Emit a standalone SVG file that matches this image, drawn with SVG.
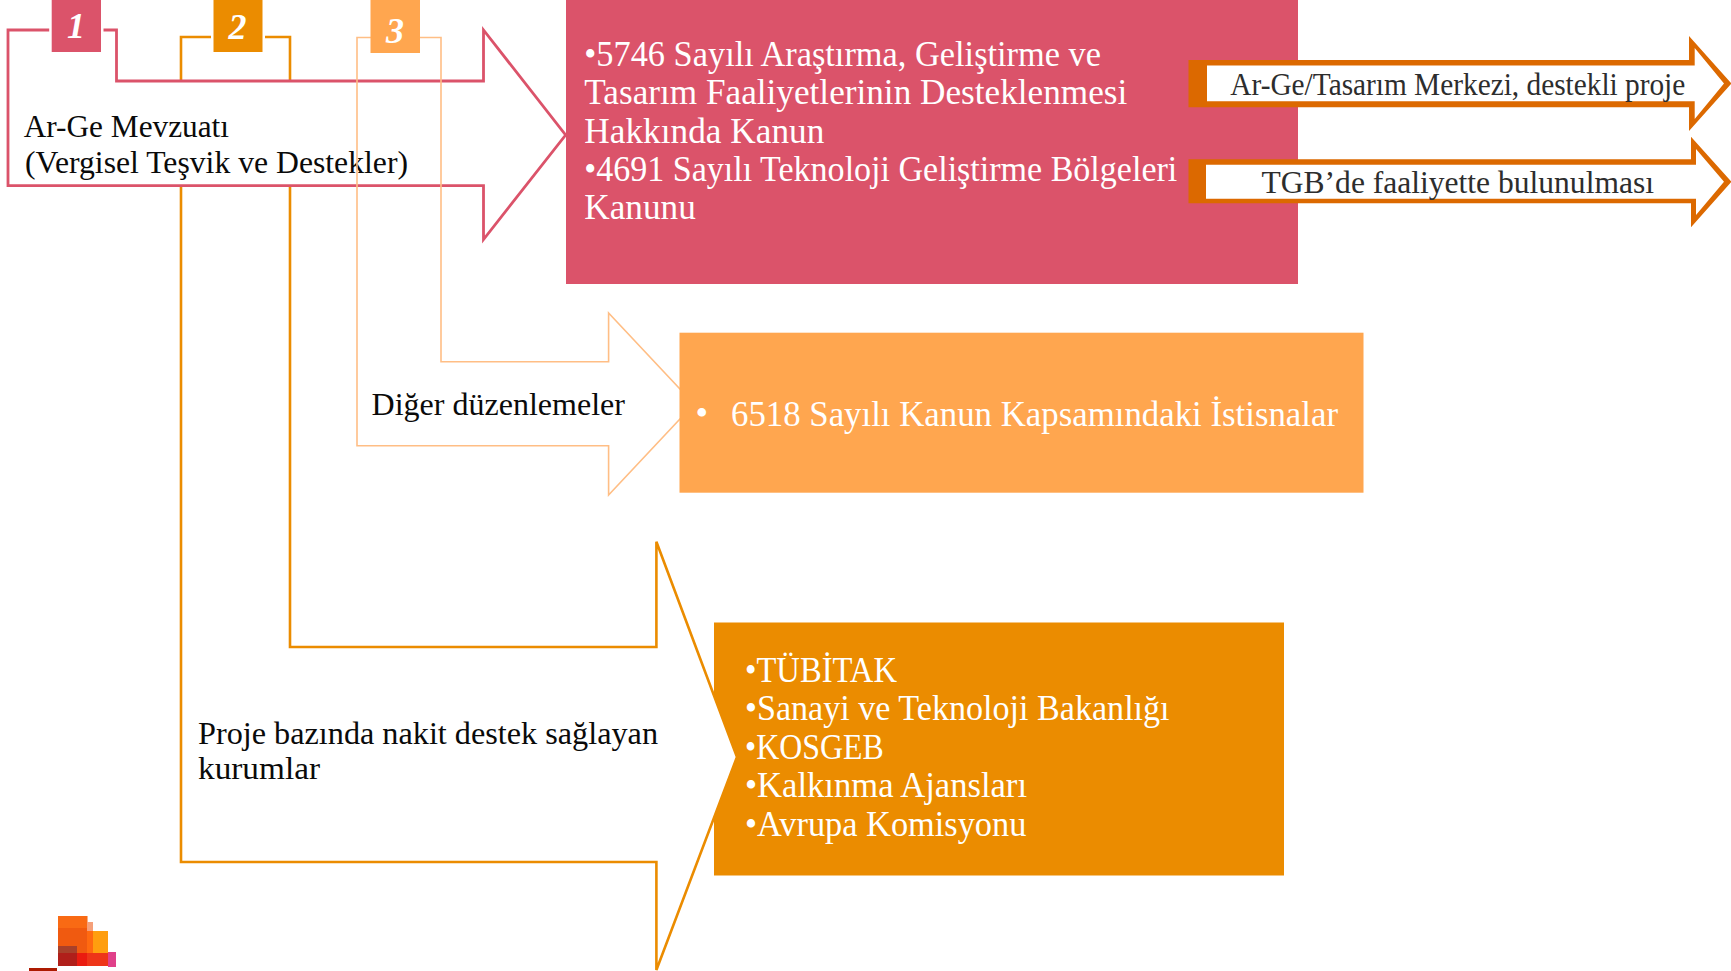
<svg xmlns="http://www.w3.org/2000/svg" width="1731" height="971" viewBox="0 0 1731 971">
<style>
text{font-family:"Liberation Serif","Times New Roman",serif}
.b{font-size:31px;fill:#0a0a0a}
.w{font-size:36px;fill:#fff}
.d{font-size:31px;fill:#2d2d2d}
.n{font-size:36px;font-weight:bold;font-style:italic;fill:#fff;text-anchor:middle}
.rose{stroke:#DB536A;stroke-width:2.8;fill:#fff;stroke-linejoin:miter}
.org{stroke:#EB8C00;stroke-width:2.6;fill:#fff}
.lt{stroke:#FFBE85;stroke-width:1.6;fill:none}
.ar{fill:#DC6900}
</style>
<rect width="1731" height="971" fill="#fff"/>
<g id="box-3"><rect x="714" y="622.5" width="570" height="253" fill="#EB8C00"/>
<text class="w" x="745" y="681.7" textLength="152" lengthAdjust="spacingAndGlyphs">•TÜBİTAK</text>
<text class="w" x="745" y="720.3" textLength="424.6" lengthAdjust="spacingAndGlyphs">•Sanayi ve Teknoloji Bakanlığı</text>
<text class="w" x="745" y="758.7" textLength="138.7" lengthAdjust="spacingAndGlyphs">•KOSGEB</text>
<text class="w" x="745" y="796.7" textLength="282" lengthAdjust="spacingAndGlyphs">•Kalkınma Ajansları</text>
<text class="w" x="745" y="836" textLength="281.4" lengthAdjust="spacingAndGlyphs">•Avrupa Komisyonu</text>
</g>
<g id="arrow-2"><path class="org" d="M181 37H290V647H656.4V541.7L737 757L656.4 970V862H181Z"/>
<text class="b" x="198" y="743.5" textLength="460" lengthAdjust="spacingAndGlyphs">Proje bazında nakit destek sağlayan</text>
<text class="b" x="198" y="778.8" textLength="122" lengthAdjust="spacingAndGlyphs">kurumlar</text>
</g>
<g id="arrow-1"><path class="rose" d="M8 30H116.5V81H483.5V30L565.6 135L483.5 239.5V185.7H8Z"/>
<text class="b" x="23.7" y="137" textLength="205.3" lengthAdjust="spacingAndGlyphs">Ar-Ge Mevzuatı</text>
<text class="b" x="25" y="173" textLength="383" lengthAdjust="spacingAndGlyphs">(Vergisel Teşvik ve Destekler)</text>
</g>
<g id="arrow-3"><path class="lt" d="M357 37.5H441V361.7H608.6V313L694 404L608.6 495V445.7H357Z"/>
<text class="b" x="371.5" y="414.7" textLength="253.5" lengthAdjust="spacingAndGlyphs">Diğer düzenlemeler</text>
</g>
<g id="box-1"><rect x="566" y="0" width="732" height="284" fill="#DB536A"/>
<text class="w" x="584.3" y="66" textLength="516.7" lengthAdjust="spacingAndGlyphs">•5746 Sayılı Araştırma, Geliştirme ve</text>
<text class="w" x="584.3" y="103.7" textLength="543" lengthAdjust="spacingAndGlyphs">Tasarım Faaliyetlerinin Desteklenmesi</text>
<text class="w" x="584.3" y="142.7" textLength="240" lengthAdjust="spacingAndGlyphs">Hakkında Kanun</text>
<text class="w" x="584.3" y="181" textLength="593" lengthAdjust="spacingAndGlyphs">•4691 Sayılı Teknoloji Geliştirme Bölgeleri</text>
<text class="w" x="584.3" y="218.7" textLength="111.5" lengthAdjust="spacingAndGlyphs">Kanunu</text>
</g>
<g id="box-2"><rect x="679.5" y="332.7" width="684" height="160" fill="#FFA64F"/>
<text class="w" x="695.5" y="425">•</text>
<text class="w" x="731" y="426" textLength="607" lengthAdjust="spacingAndGlyphs">6518 Sayılı Kanun Kapsamındaki İstisnalar</text>
</g>
<g id="arrow-a"><path class="ar" d="M1188.5 60H1689V36L1731.5 83.5L1689 131V107.3H1188.5Z"/>
<path fill="#fff" d="M1207 65.5H1694.7V48L1724 83.5L1694.7 119V101.3H1207Z"/>
<text class="d" x="1230.3" y="95" textLength="455" lengthAdjust="spacingAndGlyphs">Ar-Ge/Tasarım Merkezi, destekli proje</text>
</g>
<g id="arrow-b"><path class="ar" d="M1188.5 159.3H1691V136.7L1731.5 181.7L1691 227.3V203.3H1188.5Z"/>
<path fill="#fff" d="M1206 164.7H1696V149L1724 181.7L1696 215V198.7H1206Z"/>
<text class="d" x="1261.5" y="193.4" textLength="392.5" lengthAdjust="spacingAndGlyphs">TGB’de faaliyette bulunulması</text>
</g>
<g id="badge-1"><rect x="51.7" y="-3" width="49.3" height="55" fill="#DB536A" stroke="#fff" stroke-width="5" paint-order="stroke"/><text class="n" x="76" y="38">1</text></g>
<g id="badge-2"><rect x="213.5" y="-3" width="49" height="55" fill="#EB8C00" stroke="#fff" stroke-width="5" paint-order="stroke"/><text class="n" x="237.5" y="39">2</text></g>
<g id="badge-3"><rect x="370.5" y="-3" width="49.5" height="56" fill="#FFA64F"/><text class="n" x="395" y="43">3</text></g>
<g id="logo">
<rect x="29" y="968" width="28" height="3" fill="#AD1B02"/>
<rect x="58" y="916" width="29.3" height="50" fill="#F05A10"/>
<rect x="58" y="916" width="29.3" height="12" fill="#F96A14"/>
<rect x="87" y="922" width="6" height="10" fill="#F5A07A"/>
<rect x="87" y="931" width="6" height="22" fill="#FF6A10"/>
<rect x="93" y="931" width="15" height="22" fill="#FF9E0F"/>
<rect x="108" y="952" width="8" height="15" fill="#E0408A"/>
<rect x="58" y="953" width="19" height="13" fill="#B01F1A"/>
<rect x="58" y="946" width="19" height="7" fill="#A8402A"/>
<rect x="77" y="953" width="10" height="13" fill="#EA1C10"/>
<rect x="87" y="953" width="21" height="13" fill="#EE3518"/>
</g>
</svg>
